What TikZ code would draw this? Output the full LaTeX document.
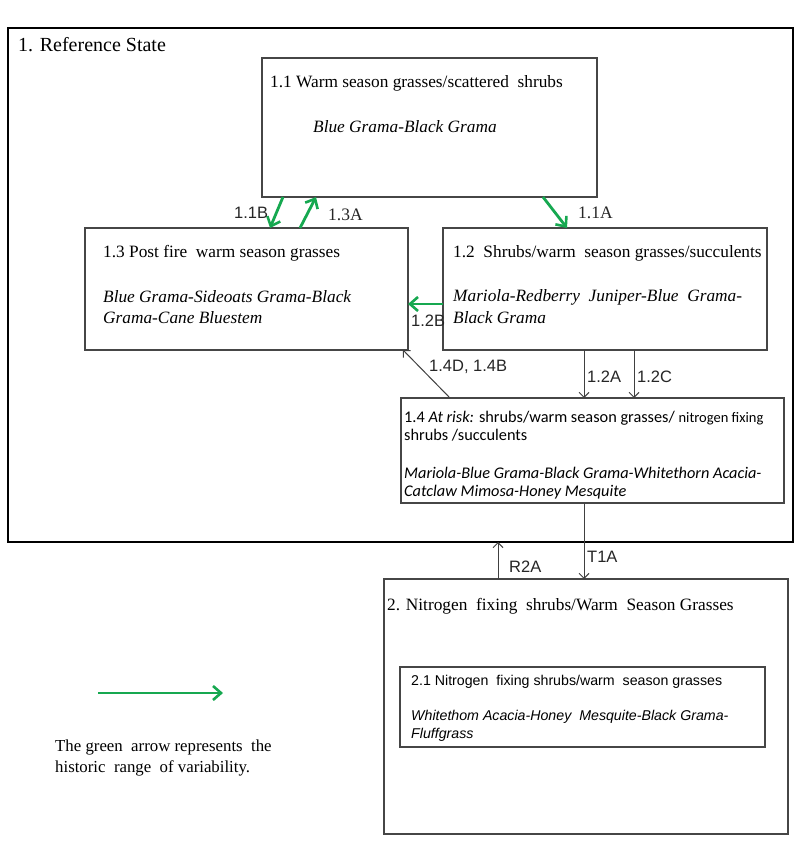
\documentclass[tikz,border=0pt]{standalone}
\usepackage{fontspec}
\setmainfont{Liberation Serif}
\newfontfamily\sansf{Liberation Sans}
\newfontfamily\calfont{Carlito}
\usetikzlibrary{arrows.meta}
\definecolor{arrgreen}{RGB}{22,168,80}
\definecolor{boxgray}{RGB}{70,70,70}
\begin{document}
\begin{tikzpicture}[x=1pt,y=-1pt,
  box/.style={draw=boxgray,line width=1.3pt,inner sep=0pt,outer sep=0pt,fill=none},
  txt/.style={anchor=west,inner sep=0pt,font=\fontsize{17.3}{19}\selectfont},
  itx/.style={txt,font=\fontsize{17.3}{19}\selectfont\itshape},
  cal/.style={anchor=west,inner sep=0pt,font=\calfont\fontsize{16.3}{18}\selectfont},
  cali/.style={anchor=west,inner sep=0pt,font=\calfont\itshape\fontsize{16.3}{18}\selectfont},
  ar/.style={anchor=west,inner sep=0pt,font=\sansf\fontsize{14.2}{16}\selectfont},
  ari/.style={anchor=west,inner sep=0pt,font=\sansf\itshape\fontsize{14.2}{16}\selectfont},
  lab/.style={anchor=west,inner sep=0pt,font=\sansf\fontsize{16.5}{18}\selectfont,text=black!85},
  slab/.style={anchor=west,inner sep=0pt,font=\fontsize{17.5}{19}\selectfont,text=black!85},
  garrow/.style={draw=arrgreen,line width=2.8pt,-{Straight Barb[length=8pt,width=14pt,line width=2.6pt]}},
  barrow/.style={draw=black!75,line width=1pt,-{Straight Barb[length=5pt,width=10pt,line width=1pt]}}]
\useasboundingbox[fill=white] (0,0) rectangle (800,853);
% boxes
\node[box,draw=black,line width=2pt,minimum width=785pt,minimum height=514pt] (outer) at (400.5,285) {};
\node[box,minimum width=335pt,minimum height=139pt] (b11) at (429.5,127.5) {};
\node[box,minimum width=323pt,minimum height=122pt] (b13) at (246.5,289) {};
\node[box,minimum width=324pt,minimum height=122pt] (b12) at (605,289) {};
\node[box,minimum width=383pt,minimum height=105pt] (b14) at (592.5,450.5) {};
\node[box,minimum width=404pt,minimum height=255pt] (b2) at (586,706.5) {};
\node[box,minimum width=365pt,minimum height=80pt] (b21) at (582.5,707) {};
% texts
\node[txt,font=\fontsize{20}{22}\selectfont] (tref) at (18,45) {1. Reference State};
\node[txt] (t11) at (270,83) {1.1 Warm season grasses/scattered\ \ shrubs};
\node[itx] (t11i) at (313,127) {Blue Grama-Black Grama};
\node[txt] (t13) at (103,253) {1.3 Post fire\ \ warm season grasses};
\node[itx] (t13i) at (103,297) {Blue Grama-Sideoats Grama-Black};
\node[itx] (t13j) at (103,318) {Grama-Cane Bluestem};
\node[txt] (t12) at (453,253) {1.2\ \ Shrubs/warm\ \ season grasses/succulents};
\node[itx] (t12i) at (453,297) {Mariola-Redberry\ \ Juniper-Blue\ \ Grama-};
\node[itx] (t12j) at (453,318) {Black Grama};
\node[cal] (t14) at (404,418) {1.4 \textit{At risk:} shrubs/warm season grasses/ {\fontsize{14.5}{16}\selectfont nitrogen fixing}};
\node[cal] (t14b) at (404,435) {shrubs /succulents};
\node[cali] (t14i) at (404,473) {Mariola-Blue Grama-Black Grama-Whitethorn Acacia-};
\node[cali] (t14j) at (404,492) {Catclaw Mimosa-Honey Mesquite};
\node[txt] (t2) at (387,606) {2. Nitrogen\ \ fixing\ \ shrubs/Warm\ \ Season Grasses};
\node[ar] (t21) at (411,682) {2.1 Nitrogen\ \ fixing shrubs/warm\ \ season grasses};
\node[ari] (t21i) at (411,717) {Whitethom Acacia-Honey\ \ Mesquite-Black Grama-};
\node[ari] (t21j) at (411,735) {Fluffgrass};
\node[txt,font=\fontsize{16.8}{19}\selectfont] (leg1) at (55,747) {The green\ \ arrow represents\ \ the};
\node[txt,font=\fontsize{16.8}{19}\selectfont] (leg2) at (55,768) {historic\ \ range\ \ of variability.};
% green arrows
\draw[garrow] ([xshift=21pt]b11.south west) -- ([xshift=185pt]b13.north west);
\draw[garrow] ([xshift=215pt]b13.north west) -- ([xshift=54pt]b11.south west);
\draw[garrow] ([xshift=281pt]b11.south west) -- ([xshift=124pt]b12.north west);
\draw[garrow] ([yshift=-15pt]b12.west) -- ([yshift=-15pt]b13.east);
\coordinate (lg1) at (98,693);
\coordinate (lg2) at (223,693);
\draw[garrow] (lg1) -- (lg2);
% black arrows
\draw[barrow] ([xshift=49pt]b14.north west) -- ([xshift=-5pt]b13.south east);
\draw[barrow] ([xshift=141pt]b12.south west) -- ([xshift=183pt]b14.north west);
\draw[barrow] ([xshift=191pt]b12.south west) -- ([xshift=233pt]b14.north west);
\draw[barrow] ([xshift=183pt]b14.south west) -- ([xshift=200pt]b2.north west);
\draw[barrow] ([xshift=114pt]b2.north west) -- ([xshift=490pt]outer.south west);
% labels
\node[lab] (l11b) at (234,213) {1.1B};
\node[slab] (l13a) at (328,215) {1.3A};
\node[slab] (l11a) at (578,213) {1.1A};
\node[lab] (l12b) at (411,321) {1.2B};
\node[lab] (l14d) at (429,367) {1.4D, 1.4B};
\node[lab] (l12a) at (587,377) {1.2A};
\node[lab] (l12c) at (637,377) {1.2C};
\node[lab] (lt1a) at (587,557) {T1A};
\node[lab] (lr2a) at (509,567) {R2A};
\end{tikzpicture}
\end{document}
